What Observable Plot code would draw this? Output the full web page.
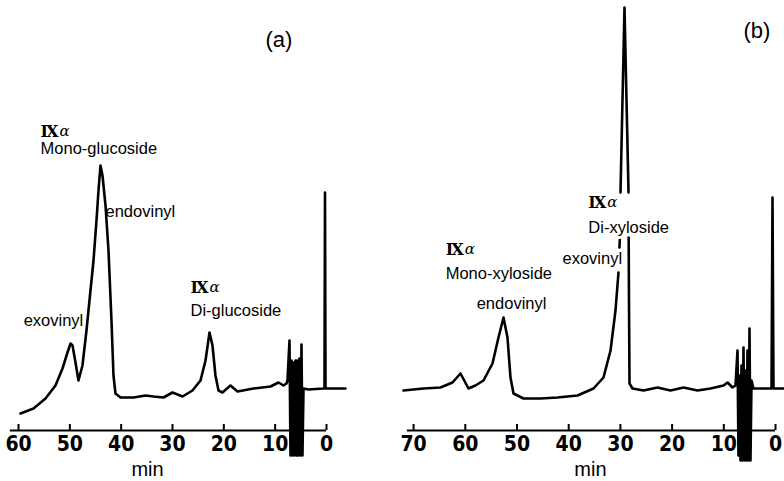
<!DOCTYPE html>
<html><head><meta charset="utf-8">
<script src="https://cdn.jsdelivr.net/npm/d3@7"></script>
<script src="https://cdn.jsdelivr.net/npm/@observablehq/plot@0.6"></script>
<style>
body{margin:0;background:#fff}
#wrap{display:flex;width:784px;height:481px;overflow:hidden}
</style>
</head><body><div id="wrap"></div>
<script>
// ---- Panel (a): retention time (min) and detector signal (arbitrary units)
const timeA = [59.61,57.08,54.74,52.80,51.43,50.46,49.87,49.48,48.90,48.32,47.54,46.76,45.98,45.39,44.81,44.42,44.03,43.64,43.05,42.47,41.89,41.50,41.11,40.13,37.60,35.26,33.70,31.76,30.00,28.05,26.11,24.55,23.57,22.79,22.21,21.63,21.04,20.26,18.70,17.34,14.22,10.91,9.35,8.38,7.79,
  7.60,7.21,7.01,6.82,6.62,6.43,6.23,6.04,5.84,5.65,5.46,5.26,5.07,4.87,4.68,4.48,3.51,0.58,0.39,0.29,0.19,-3.70];
const sigA = [17,22,32,45,62,78,87,85,68,50,65,100,140,170,210,240,265,255,225,180,110,55,37,33,33,35,34,33,38,34,40,50,70,98,85,55,40,38,45,39,42,44,48,45,47,
  50,90,-25,70,-25,68,-25,70,-25,70,-25,72,-25,86,-25,42,41,42,42,238,42,42];
const ticksA = [60,50,40,30,20,10,0];
const labelsA = [
  {text:"Mono-glucoside", t:55.7, s:282},
  {text:"endovinyl", t:43.05, s:219},
  {text:"exovinyl", t:59.0, s:110},
  {text:"Di-glucoside", t:26.5, s:120}
];
const romanA = [{t:55.7, s:299}, {t:26.5, s:143}];

// ---- Panel (b)  (NaN = where the trace is interrupted by the labels)
const timeB = [71.95,68.09,64.80,62.48,60.93,59.38,58.03,56.48,54.74,53.58,52.61,51.84,51.26,50.68,48.74,45.45,42.17,38.30,35.20,33.27,31.91,30.95,30.37,NaN,30.18,30.10,NaN,29.98,29.21,28.43,NaN,28.40,28.34,28.24,27.66,25.53,22.82,20.31,17.79,15.09,12.57,10.06,9.28,8.32,
  7.74,7.35,7.16,6.96,6.77,6.58,6.38,6.19,6.00,5.80,5.61,5.42,5.22,5.03,4.84,4.64,4.26,0.77,0.58,0.39,-1.74];
const sigB = [40,42,43,48,57,42,45,50,67,93,113,93,53,37,32,32,33,35,42,53,80,120,158,NaN,183,193,NaN,238,423,238,NaN,193,130,47,42,40,43,40,43,40,42,45,48,43,
  45,80,-25,55,-30,65,-30,83,-30,60,-30,80,-30,102,-30,50,42,42,233,42,42];
const ticksB = [70,60,50,40,30,20,10,0];
const labelsB = [
  {text:"Mono-xyloside", t:63.8, s:157, halo:false},
  {text:"endovinyl", t:57.8, s:127, halo:false},
  {text:"exovinyl", t:41.2, s:172, halo:true},
  {text:"Di-xyloside", t:36.2, s:203, halo:true}
];
const romanB = [{t:63.8, s:181, halo:false}, {t:36.2, s:228, halo:true}];

const LABEL_FONT = "'Liberation Sans', Arial, sans-serif";
const TICK_FONT = "'Liberation Sans Narrow', 'DejaVu Sans Condensed', sans-serif";

function panel({times, sigs, ticks, domain, axisFrom, minAt, labels, romans, tag, tagAt}) {
  const data = times.map((t, i) => ({t, s: sigs[i]}));
  const plain = labels.filter(d => !d.halo);
  const haloed = labels.filter(d => d.halo);
  const rPlain = romans.filter(d => !d.halo);
  const rHalo = romans.filter(d => d.halo);
  const textBase = {x: "t", y: "s", textAnchor: "start", fontFamily: LABEL_FONT, fontSize: 16.5, fill: "black"};
  const romanBase = {x: "t", y: "s", text: () => "Ⅸ", textAnchor: "start", fontFamily: "'DejaVu Serif', serif", fontSize: 16, fontWeight: "bold", fill: "black"};
  return Plot.plot({
    width: 392, height: 481,
    marginTop: 0, marginBottom: 51, marginLeft: 0, marginRight: 0,
    x: {domain, axis: null},
    y: {domain: [0, 430], axis: null},
    style: {background: "white", overflow: "visible"},
    marks: [
      Plot.ruleY([0], {x1: axisFrom, x2: 0, stroke: "black", strokeWidth: 2}),
      Plot.ruleX(ticks, {y1: 0, y2: 6, stroke: "black", strokeWidth: 2}),
      Plot.text(ticks, {x: d => d, y: -14, text: d => String(d), fontFamily: TICK_FONT, fontSize: 21, fontWeight: "bold", fill: "black"}),
      Plot.text(["min"], {x: minAt, y: -39, text: d => d, fontFamily: LABEL_FONT, fontSize: 20, fill: "black"}),
      Plot.line(data, {x: "t", y: "s", stroke: "black", strokeWidth: 2.6, strokeLinejoin: "round"}),
      Plot.text(plain, {...textBase, text: "text"}),
      Plot.text(haloed, {...textBase, text: "text", stroke: "white", strokeWidth: 6, paintOrder: "stroke"}),
      Plot.text(rPlain, romanBase),
      Plot.text(rHalo, {...romanBase, stroke: "white", strokeWidth: 6, paintOrder: "stroke"}),
      Plot.text(romans, {x: "t", y: "s", dx: 19, text: () => "α", textAnchor: "start", fontFamily: "'DejaVu Serif', serif", fontSize: 15, fontStyle: "italic", fill: "black"}),
      Plot.text([tag], {x: tagAt[0], y: tagAt[1], text: d => d, textAnchor: "start", fontFamily: LABEL_FONT, fontSize: 22, fill: "black"})
    ]
  });
}

const wrap = document.getElementById("wrap");
wrap.append(panel({times: timeA, sigs: sigA, ticks: ticksA, domain: [63.51, -12.86], axisFrom: 61.6, minAt: 34.87,
  labels: labelsA, romans: romanA, tag: "(a)", tagAt: [11.9, 391]}));
wrap.append(panel({times: timeB, sigs: sigB, ticks: ticksB, domain: [74.08, -1.74], axisFrom: 71.2, minAt: 35.8,
  labels: labelsB, romans: romanB, tag: "(b)", tagAt: [6.19, 400]}));
</script>
</body></html>
